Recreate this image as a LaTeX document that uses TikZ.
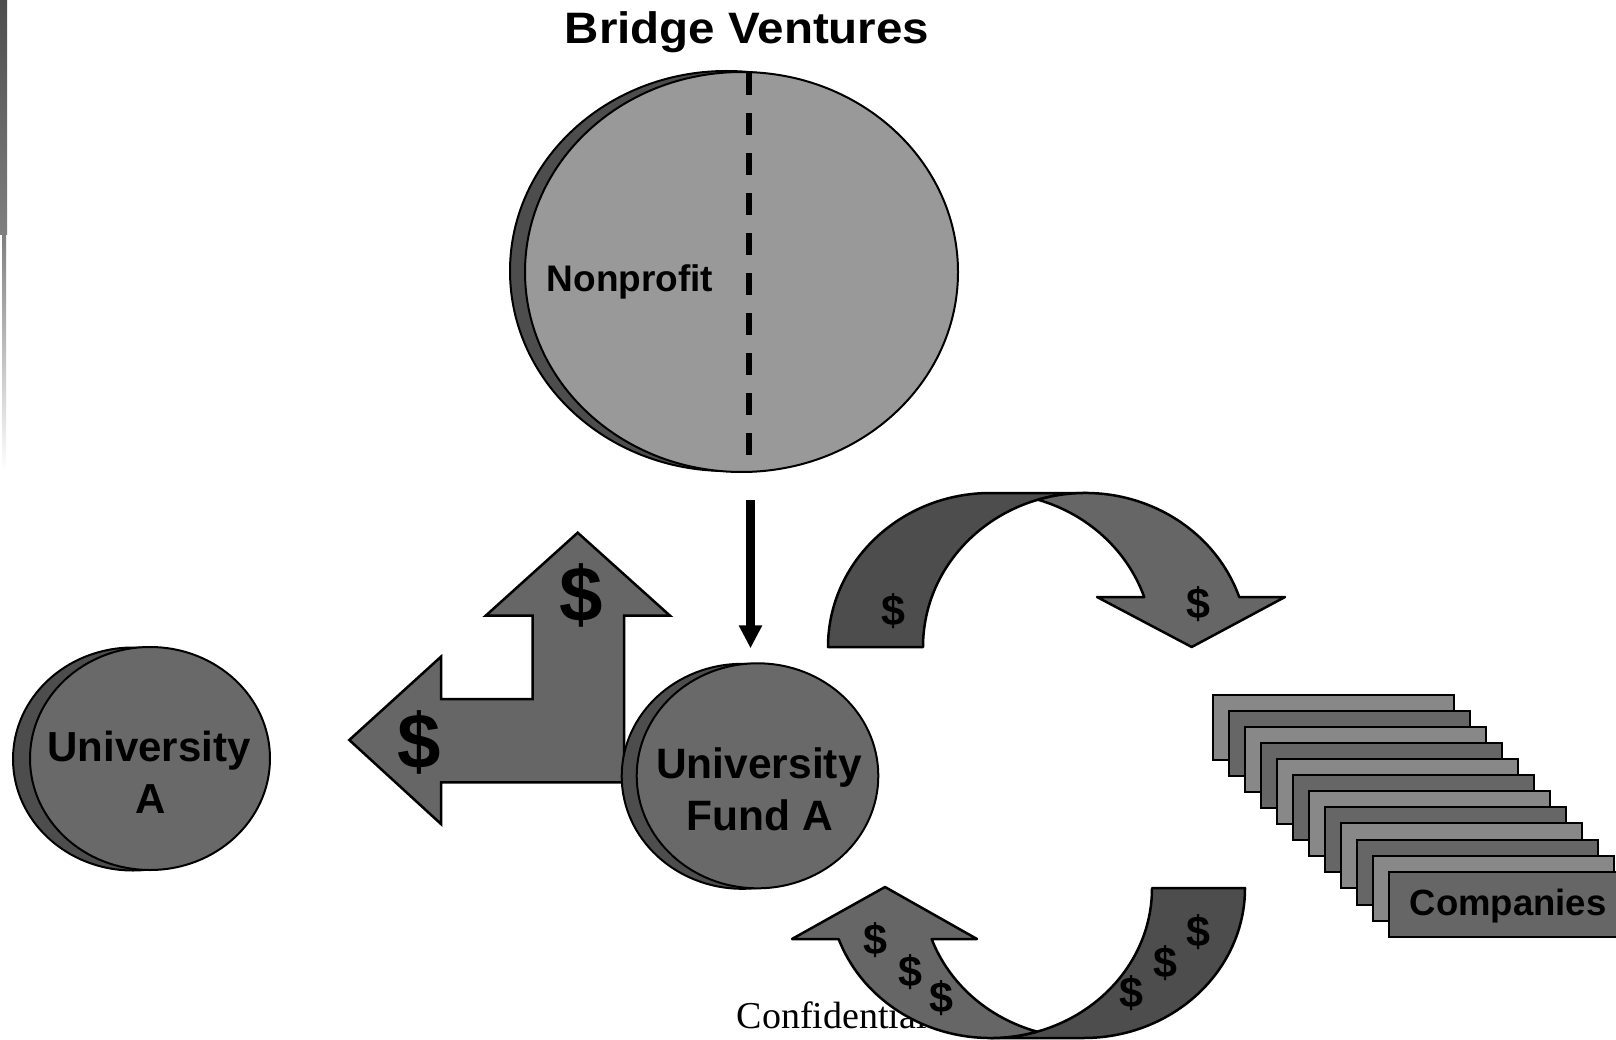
\documentclass[tikz,border=0pt]{standalone}
\usepackage{fontspec}
\setmainfont{Liberation Sans}
\newfontfamily\conffont{Liberation Serif}
\usetikzlibrary{shapes.geometric,arrows.meta,calc}
\definecolor{shadowgray}{HTML}{4D4D4D}
\definecolor{midgray}{HTML}{666666}
\definecolor{palegray}{HTML}{999999}
\definecolor{circgray}{HTML}{696969}
\definecolor{compl}{HTML}{888888}
\begin{document}
\begin{tikzpicture}[x=1pt,y=-1pt,
  lbl/.style={inner sep=0pt, outer sep=0pt, anchor=base, text=black},
  disc/.style={ellipse, draw=black, line width=2pt, inner sep=0pt, outer sep=0pt},
  shape arrow/.style={draw=black, line width=2.5pt, line join=miter},
  compbox/.style={draw=black, line width=2pt, minimum width=240.7pt, minimum height=65pt, inner sep=0pt, outer sep=0pt, anchor=north west},
  bigdollar/.style={inner sep=0pt, outer sep=0pt, font=\bfseries\fontsize{78}{86}\selectfont},
  smalldollar/.style={inner sep=0pt, outer sep=0pt, font=\bfseries\fontsize{43}{50}\selectfont}
]
\clip (0,0) rectangle (1616,1040);
\fill[white] (0,0) rectangle (1616,1040);

% left edge strip
\fill[top color=shadowgray, bottom color=gray] (0,0) rectangle (7,235);
\fill[top color=gray, bottom color=white] (2,235) rectangle (6,470);

% title
\node[lbl, font=\bfseries\fontsize{44}{50}\selectfont] (title) at (747,44) {\scalebox{1.08}[1]{Bridge Ventures}};

% Nonprofit disc
\node[disc, fill=shadowgray, minimum width=433pt, minimum height=400pt] (npsh) at (726.5,271) {};
\node[disc, fill=palegray, minimum width=433pt, minimum height=400pt] (np) at (741.5,272) {};
\draw[line width=6pt, dash pattern=on 21.7pt off 18.3pt] ($(np.north)+(7.5,1.3)$) -- ($(np.south)+(7.5,-17)$);
\node[lbl, font=\bfseries\fontsize{37}{42}\selectfont] (nptext) at (630,291.7) {Nonprofit};

% T-shaped arrow
\filldraw[fill=midgray, shape arrow] (349.3,740) -- (441,656.7) -- (441,699) -- (532.7,699) -- (532.7,615.7) -- (485.7,615.7) -- (577.7,532.7) -- (670,615.7) -- (624,615.7) -- (624,782.3) -- (441,782.3) -- (441,824) -- cycle;
\node[bigdollar] (dup) at (581,595.5) {\$};
\node[bigdollar] (dleft) at (419.3,742) {\$};

% University A
\node[disc, fill=shadowgray, minimum width=240pt, minimum height=223pt] (unish) at (133,759) {};
\node[disc, fill=circgray, minimum width=240pt, minimum height=223pt] (unia) at (150,758.5) {};
\node[lbl, font=\bfseries\fontsize{42}{48}\selectfont] (unia1) at (149,761.7) {University};
\node[lbl, font=\bfseries\fontsize{42}{48}\selectfont] (unia2) at (151,813) {A};

% University Fund A
\node[disc, fill=shadowgray, minimum width=241.6pt, minimum height=225pt] (fundsh) at (742.5,776.3) {};
\node[disc, fill=circgray, minimum width=241.6pt, minimum height=225pt] (fund) at (757.5,775.8) {};
\node[lbl, font=\bfseries\fontsize{42.5}{48}\selectfont] (fund1) at (759,778) {University};
\node[lbl, font=\bfseries\fontsize{42.5}{48}\selectfont] (fund2) at (760,830) {Fund A};

% arrow Nonprofit -> Fund
\draw[line width=9pt, -{Triangle[width=22pt,length=23pt]}] ($(np.south)+(9,28)$) -- ($(np.south |- fund.north)+(9,-15)$);

% top curved arrow
\filldraw[fill=shadowgray, shape arrow, line join=round] (828,647) arc[start angle=180, end angle=270, x radius=162.5, y radius=154] -- (1085.5,493) arc[start angle=270, end angle=180, x radius=162.5, y radius=154] -- cycle;
\filldraw[fill=midgray, shape arrow, line join=round] ($(1085.5,647)+(253:162.5 and 154)$) arc[start angle=253, end angle=341.06, x radius=162.5, y radius=154] -- (1285,597) -- (1191.7,647) -- (1097,597) -- ($(990.5,647)+(-18.94:162.5 and 154)$) arc[start angle=-18.94, end angle=-73, x radius=162.5, y radius=154] -- cycle;
\node[smalldollar] (t1) at (893.3,610.7) {\$};
\node[smalldollar] (t2) at (1198.3,604.3) {\$};

% companies stack
\foreach \i/\col in {0/compl,1/midgray,2/compl,3/midgray,4/compl,5/midgray,6/compl,7/midgray,8/compl,9/midgray,10/compl,11/midgray}{
  \node[compbox, fill=\col] (c\i) at (1213.3+16*\i, 695+16.06*\i) {};
}
\node[lbl, font=\bfseries\fontsize{36.5}{42}\selectfont] (comptext) at (1508,915) {Companies};

% Confidential
\node[inner sep=0pt, outer sep=0pt, anchor=base west, font=\conffont\fontsize{38}{44}\selectfont] (conf) at (736.7,1028.3) {Confidential};

% bottom curved arrow
\filldraw[fill=shadowgray, shape arrow, line join=round] (1152,888) arc[start angle=0, end angle=90, x radius=161.5, y radius=150] -- (1083.5,1038) arc[start angle=90, end angle=0, x radius=161.5, y radius=150] -- cycle;
\filldraw[fill=midgray, shape arrow, line join=round] ($(990.5,888)+(73.27:161.5 and 150)$) arc[start angle=73.27, end angle=160.12, x radius=161.5, y radius=150] -- (792,939) -- (885,887) -- (977,939) -- ($(1083.5,888)+(160.12:161.5 and 150)$) arc[start angle=160.12, end angle=106.73, x radius=161.5, y radius=150] -- cycle;
\node[smalldollar] (b1) at (875,940) {\$};
\node[smalldollar] (b2) at (910,972) {\$};
\node[smalldollar] (b3) at (941.7,998.5) {\$};
\node[smalldollar] (b4) at (1131.7,993.3) {\$};
\node[smalldollar] (b5) at (1165,963.3) {\$};
\node[smalldollar] (b6) at (1198.3,931.7) {\$};
\end{tikzpicture}
\end{document}
